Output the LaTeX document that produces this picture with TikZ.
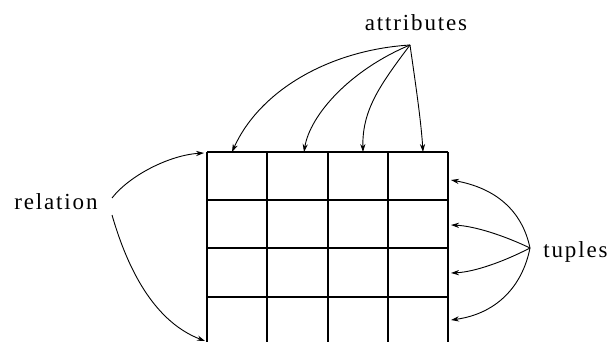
\documentclass[tikz,border=0pt]{standalone}
\usepackage{fontspec}
\setmainfont{Liberation Serif}[LetterSpace=8]
\usetikzlibrary{arrows.meta}
\tikzset{
  lbl/.style={inner sep=0pt, font=\fontsize{11.5}{13}\selectfont},
  gridline/.style={line width=0.9pt},
  pointer/.style={line width=0.45pt, -{Stealth[length=4pt,width=2.6pt]}}
}
\begin{document}
\begin{tikzpicture}[x=0.5pt,y=-0.5pt]
\useasboundingbox (0,0) rectangle (611,342);
% grid
\foreach \x in {207,267,328,388,448} \draw[gridline] (\x,152) -- (\x,342);
\foreach \y in {152,200,248,297} \draw[gridline] (207,\y) -- (448,\y);
% labels
\node[lbl, anchor=base] (attr) at (416,31) {attributes};
\node[lbl, anchor=base west] (rel) at (14,210) {relation};
\node[lbl, anchor=base west] (tup) at (543,257) {tuples};
% junction points
\coordinate (ap) at (410,45);
\coordinate (rp1) at (112,198);
\coordinate (rp2) at (112,215);
\coordinate (tp) at (530,248);
% targets
\coordinate (a1) at (232,152);
\coordinate (a2) at (304,152);
\coordinate (a3) at (363,152);
\coordinate (a4) at (423,152);
\coordinate (r1) at (204,153);
\coordinate (r2) at (205,341);
\coordinate (t1) at (451,180);
\coordinate (t2) at (451,225);
\coordinate (t3) at (451,273);
\coordinate (t4) at (451,320);
% attribute arrows
\draw[pointer] (ap) .. controls (330,50) and (260,90) .. (a1);
\draw[pointer] (ap) .. controls (350,70) and (310,115) .. (a2);
\draw[pointer] (ap) .. controls (380,85) and (362,110) .. (a3);
\draw[pointer] (ap) .. controls (415,80) and (421,120) .. (a4);
% relation arrows
\draw[pointer] (rp1) .. controls (130,175) and (170,155) .. (r1);
\draw[pointer] (rp2) .. controls (125,260) and (150,320) .. (r2);
% tuple arrows
\draw[pointer] (tp) .. controls (522,210) and (495,188) .. (t1);
\draw[pointer] (tp) .. controls (505,236) and (475,226) .. (t2);
\draw[pointer] (tp) .. controls (505,261) and (475,272) .. (t3);
\draw[pointer] (tp) .. controls (522,288) and (495,314) .. (t4);
\end{tikzpicture}
\end{document}
